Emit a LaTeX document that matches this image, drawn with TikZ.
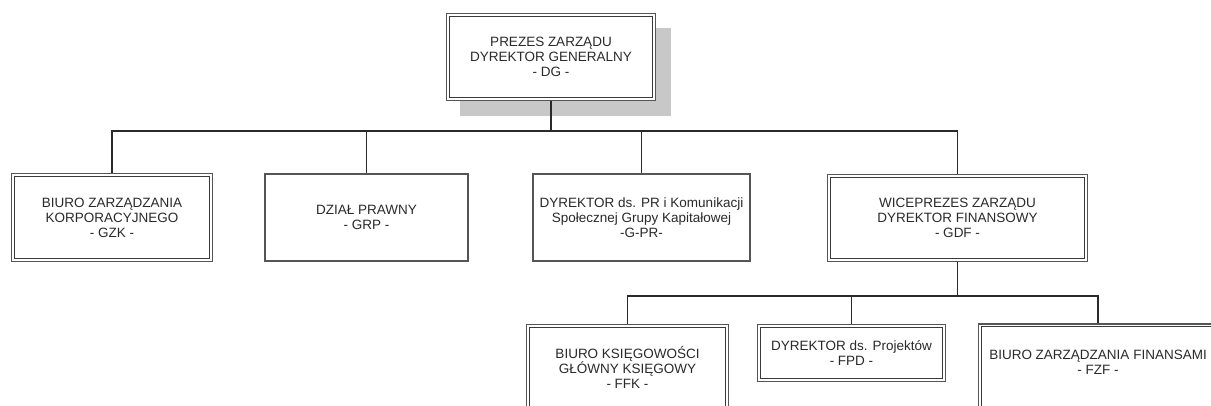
\documentclass[tikz,border=0pt]{standalone}
\usepackage{fontspec}
\setmainfont{Liberation Sans}
\definecolor{boxline}{HTML}{3A3A3A}
\definecolor{outerline}{HTML}{555555}
\definecolor{conn}{HTML}{2A2A2A}
\definecolor{txtc}{HTML}{2A2A2A}
\definecolor{shadowc}{HTML}{C8C8C8}
\tikzset{
  sbox/.style={draw=outerline, line width=1.2pt, fill=white, rectangle, inner sep=0pt,
    align=center, text=txtc, font=\fontsize{13.5}{15}\selectfont},
  dbox/.style={sbox, line width=1.6pt},
  innerline/.style={draw=boxline, line width=1pt},
  conline/.style={draw=conn, line width=1.1pt},
  txtnode/.style={align=center, text=txtc, inner sep=0pt, font=\fontsize{13.5}{15}\selectfont}
}
\begin{document}
\begin{tikzpicture}[x=1pt,y=-1pt]
\useasboundingbox (0,0) rectangle (1211,405);
\clip (0,0) rectangle (1211,405);
\fill[white] (0,0) rectangle (1211,405);

% shadow of top node
\fill[shadowc] (460,28) rectangle (671,116);
% top node
\node[dbox, minimum width=209, minimum height=87] (dg) at (551,57) {PREZES ZARZĄDU\\DYREKTOR GENERALNY\\- DG -};

% level 2
\node[dbox, minimum width=201, minimum height=88] (gzk) at (112,217.5) {BIURO ZARZĄDZANIA\\KORPORACYJNEGO\\- GZK -};
\node[sbox, minimum width=203, minimum height=87] (grp) at (366.5,217.5) {DZIAŁ PRAWNY\\- GRP -};
\node[sbox, minimum width=217, minimum height=87] (gpr) at (641.5,217.5) {DYREKTOR ds. PR i Komunikacji\\Społecznej Grupy Kapitałowej\\-G-PR-};
\node[dbox, minimum width=260, minimum height=87] (gdf) at (957.5,218) {WICEPREZES ZARZĄDU\\DYREKTOR FINANSOWY\\- GDF -};

% level 3
\node[dbox, minimum width=202, minimum height=85] (ffk) at (627.5,367) {BIURO KSIĘGOWOŚCI\\GŁÓWNY KSIĘGOWY\\- FFK -};
\node[dbox, minimum width=188, minimum height=57] (fpd) at (851.5,353) {DYREKTOR ds. Projektów\\- FPD -};
\node[dbox, minimum width=239, minimum height=96] (fzf) at (1098,372) {};
\node[txtnode] (fzft) at (1098,362) {BIURO ZARZĄDZANIA FINANSAMI\\- FZF -};

% inner lines of double boxes
\foreach \n in {dg,gzk,gdf,ffk,fpd,fzf}
  \draw[innerline] ([shift={(3.5,3.5)}]\n.north west) rectangle ([shift={(-3.5,-3.5)}]\n.south east);

% connectors
\coordinate (bus1) at (551,131);
\coordinate (bus2) at (957.5,296);
\draw[conline] (dg.south) -- (bus1);
\draw[conline] (bus1) -| (gzk.north);
\draw[conline] (bus1) -| (grp.north);
\draw[conline] (bus1) -| (gpr.north);
\draw[conline] (bus1) -| (gdf.north);
\draw[conline] (gdf.south) -- (bus2);
\draw[conline] (bus2) -| (ffk.north);
\draw[conline] (bus2) -| (fpd.north);
\draw[conline] (bus2) -| (fzf.north);
\end{tikzpicture}
\end{document}
